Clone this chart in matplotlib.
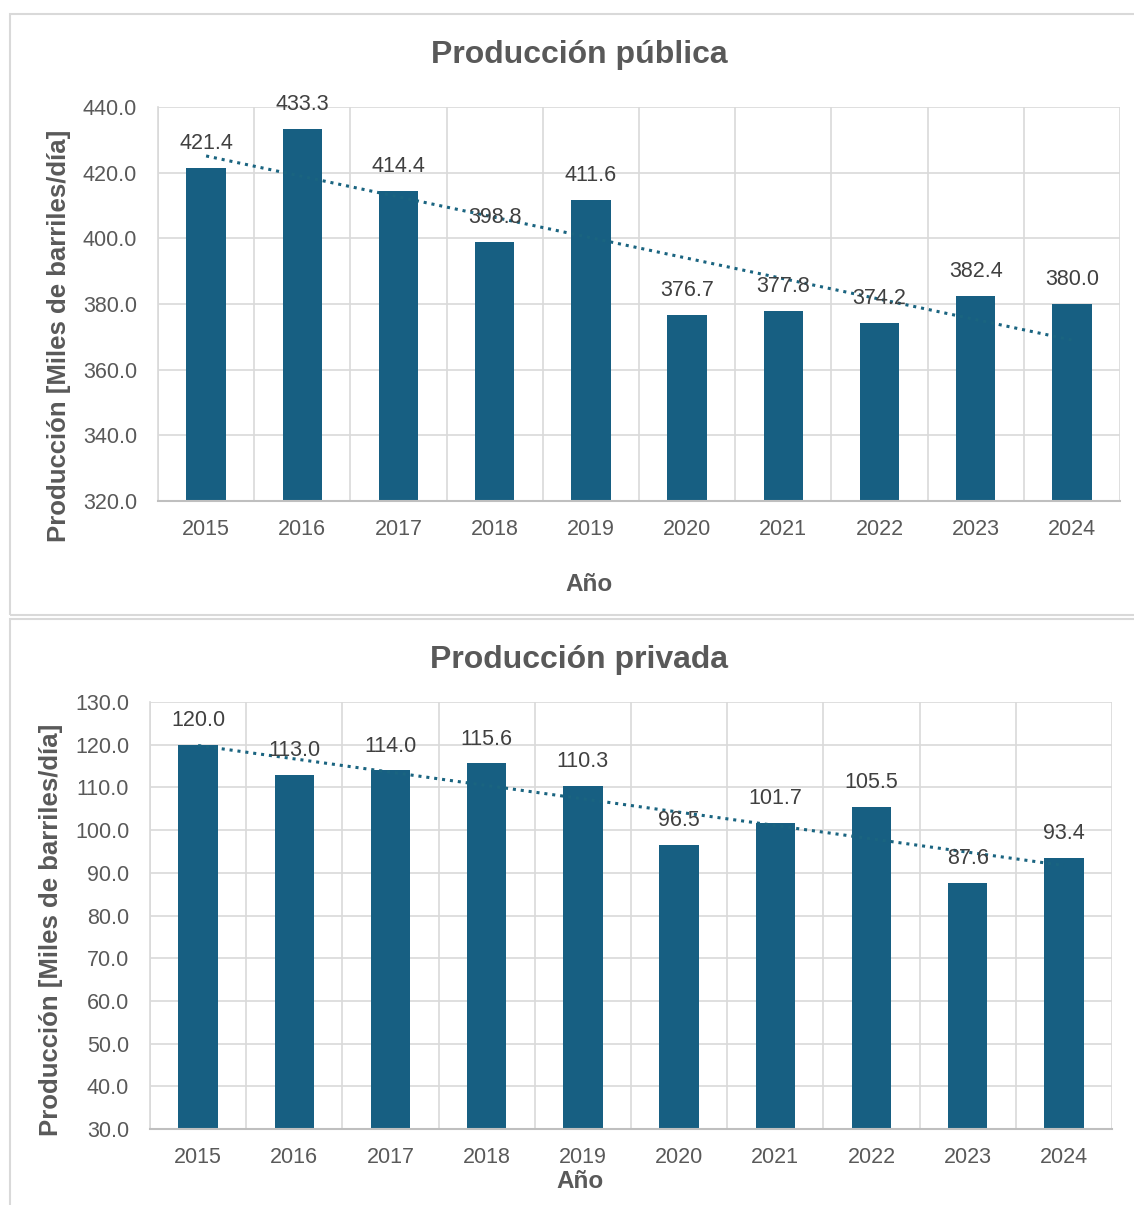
import numpy as np
import matplotlib
matplotlib.use("Agg")
import matplotlib.pyplot as plt
from matplotlib.patches import Rectangle

plt.rcParams['font.family'] = ['Liberation Sans', 'DejaVu Sans']

years = ["2015", "2016", "2017", "2018", "2019", "2020", "2021", "2022", "2023", "2024"]
publica = [421.4, 433.3, 414.4, 398.8, 411.6, 376.7, 377.8, 374.2, 382.4, 380.0]
privada = [120.0, 113.0, 114.0, 115.6, 110.3, 96.5, 101.7, 105.5, 87.6, 93.4]

titles = ["Producción pública", "Producción privada"]
ylabel = "Producción [Miles de barriles/día]"
xlabel = "Año"

W, H = 1134, 1205
fig = plt.figure(figsize=(W / 100, H / 100), dpi=100)

BAR = "#175f82"
TREND = "#1a6480"
GRID = "#d9d9d9"
TXT = "#595959"
LBL = "#404040"

def fx(px):
    return px / W

def fy(py):
    return 1 - py / H

# panel borders
for (x0, y0, x1, y1) in [(10, 14, 1140, 615), (10, 619, 1140, 1212)]:
    fig.patches.append(Rectangle((fx(x0), fy(y1)), fx(x1 - x0), fy(y0) - fy(y1),
                                 transform=fig.transFigure, fill=False,
                                 edgecolor="#d9d9d9", linewidth=1.5))

panels = [
    dict(data=publica, box=(158, 107, 1120, 501), ylim=(320, 440), step=20,
         title_y=55, xlabel_y=584, xlabel_x=589, ylabel_x=59, ylabel_y=336),
    dict(data=privada, box=(150, 702, 1112, 1129), ylim=(30, 130), step=10,
         title_y=660, xlabel_y=1182, xlabel_x=580, ylabel_x=51, ylabel_y=930),
]

for i, p in enumerate(panels):
    l, t, r, b = p["box"]
    ax = fig.add_axes([fx(l), fy(b), fx(r - l), fy(t) - fy(b)])
    vals = np.array(p["data"])
    x = np.arange(len(years))
    ax.bar(x, vals - p["ylim"][0], bottom=p["ylim"][0], width=0.41, color=BAR, zorder=3)
    # trend line
    coef = np.polyfit(x, vals, 1)
    ax.plot(x, np.polyval(coef, x), linestyle=(0, (1, 1.6)), color=TREND, linewidth=2.2, zorder=4)
    for xi, v in zip(x, vals):
        ax.annotate(f"{v:.1f}", (xi, v), xytext=(0, 17.5), textcoords="offset points",
                    ha="center", va="center", fontsize=15.5, color=LBL, zorder=5)
    ax.set_xlim(-0.5, len(years) - 0.5)
    ax.set_ylim(*p["ylim"])
    ax.set_yticks(np.arange(p["ylim"][0], p["ylim"][1] + 0.1, p["step"]))
    ax.yaxis.set_major_formatter(matplotlib.ticker.FormatStrFormatter("%.1f"))
    ax.set_xticks(x)
    ax.set_xticklabels(years)
    ax.set_xticks(np.arange(-0.5, len(years)), minor=True)
    ax.grid(True, axis="y", which="major", color=GRID, linewidth=1.2, zorder=0)
    ax.grid(True, axis="x", which="minor", color=GRID, linewidth=1.2, zorder=0)
    ax.tick_params(axis="both", which="both", length=0, labelsize=15.5, labelcolor=TXT)
    ax.tick_params(axis="x", pad=13)
    ax.tick_params(axis="y", pad=15)
    for s in ["top", "right"]:
        ax.spines[s].set_visible(False)
    ax.spines["left"].set_color(GRID)
    ax.spines["left"].set_linewidth(1.2)
    ax.spines["bottom"].set_color("#bfbfbf")
    ax.spines["bottom"].set_linewidth(1.5)
    ax.spines["bottom"].set_zorder(6)
    fig.text(fx(579), fy(p["title_y"]), titles[i], ha="center", va="center",
             fontsize=23, fontweight="bold", color=TXT)
    fig.text(fx(p["xlabel_x"]), fy(p["xlabel_y"]), xlabel, ha="center", va="center",
             fontsize=17.5, fontweight="bold", color=TXT)
    fig.text(fx(p["ylabel_x"]), fy(p["ylabel_y"]), ylabel,
             ha="center", va="center", rotation=90,
             fontsize=18.5, fontweight="bold", color=TXT)

fig.savefig("out.png", dpi=100, facecolor="white")
